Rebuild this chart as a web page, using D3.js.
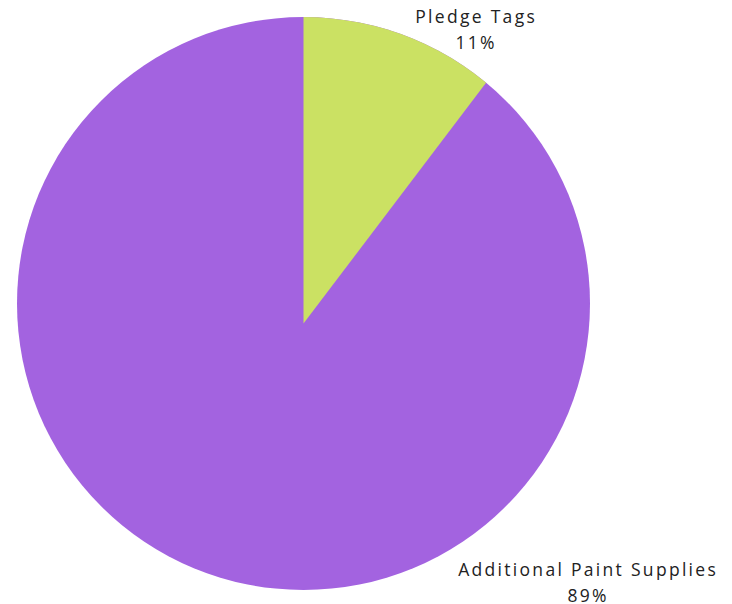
<!DOCTYPE html>
<html>
<head>
<meta charset="utf-8">
<script src="https://cdn.jsdelivr.net/npm/d3@7"></script>
<style>
  body { margin: 0; background: #fff; }
  text { font-family: "Open Sans", sans-serif; fill: #222; }
</style>
</head>
<body>
<svg id="chart"></svg>
<script>
const categories = ["Pledge Tags", "Additional Paint Supplies"];
const values = [11, 89];
const colors = ["#cbe163", "#a363e0"];

const width = 732, height = 604;
const cx = 303.5, cy = 303.5, radius = 286.5;
// where each label block sits (centre of text, first baseline)
const labelPos = [[475, 23], [587, 576]];
const spacing = 2.3;

const svg = d3.select("#chart")
  .attr("width", width)
  .attr("height", height);

const pie = d3.pie().sort(null).value(d => d.value);
const arcs = pie(categories.map((c, i) => ({ name: c, value: values[i] })));

const arc = d3.arc().innerRadius(0).outerRadius(radius);

const g = svg.append("g").attr("transform", `translate(${cx},${cy})`);

svg.append("defs").append("clipPath").attr("id", "pieclip")
  .append("circle").attr("r", radius);

// big slice first, whole disc underneath
g.append("path")
  .attr("d", arc({ startAngle: 0, endAngle: 2 * Math.PI }))
  .attr("fill", colors[1]);

// small slice: apex sits a little under the centre in the reference
const first = arcs[0];
const apexDy = 20;
const px = radius * Math.sin(first.endAngle), py = -radius * Math.cos(first.endAngle);
const endA = Math.atan2(px, apexDy - py);
const wedge = d3.arc().innerRadius(0).outerRadius(radius + apexDy + 10)
  .startAngle(0).endAngle(endA);

g.append("g").attr("clip-path", "url(#pieclip)")
  .append("path")
  .attr("transform", `translate(0,${apexDy})`)
  .attr("d", wedge())
  .attr("fill", colors[0]);

const labels = svg.selectAll(".lbl")
  .data(arcs)
  .enter()
  .append("text")
  .attr("class", "lbl")
  .attr("text-anchor", "middle")
  .style("font-size", "17.5px")
  .style("letter-spacing", spacing + "px");

labels.append("tspan")
  .attr("x", (d, i) => labelPos[i][0] + spacing / 2)
  .attr("y", (d, i) => labelPos[i][1])
  .text(d => d.data.name);

labels.append("tspan")
  .attr("x", (d, i) => labelPos[i][0] + spacing / 2)
  .attr("y", (d, i) => labelPos[i][1] + 25.5)
  .text(d => d3.format(".0%")(d.data.value / d3.sum(values)));
</script>
</body>
</html>
